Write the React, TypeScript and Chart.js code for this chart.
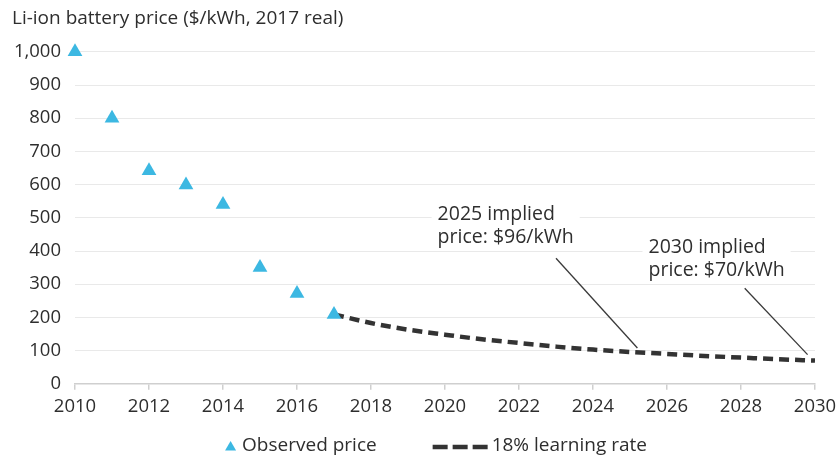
import React, { useEffect, useRef } from "react";
import { Chart, registerables } from "chart.js";

Chart.register(...registerables);

// ---- Data ----
const chartTitle = "Li-ion battery price ($/kWh, 2017 real)";
const observedYears = [2010, 2011, 2012, 2013, 2014, 2015, 2016, 2017];
const observedPrices = [1000, 800, 642, 599, 540, 350, 272, 209];
const projectedYears = [2017, 2018, 2019, 2020, 2021, 2022, 2023, 2024, 2025, 2026, 2027, 2028, 2029, 2030];
const projectedPrices = [209, 183, 163, 148, 134, 123, 112, 103, 96, 90, 84, 79, 74, 70];
const seriesLabels = ["Observed price", "18% learning rate"];
const xTickValues = [2010, 2012, 2014, 2016, 2018, 2020, 2022, 2024, 2026, 2028, 2030];
const yTickValues = [0, 100, 200, 300, 400, 500, 600, 700, 800, 900, 1000];
const annotationLines1 = ["2025 implied", "price: $96/kWh"];
const annotationLines2 = ["2030 implied", "price: $70/kWh"];

const FONT = "'Open Sans', 'Noto Sans', sans-serif";
const TEXT_COLOR = "#2e2e2e";
const CYAN = "#3cb8e2";
const DASH_COLOR = "#333333";

// annotation placement (data units for anchors)
const annotations = [
  { text: annotationLines1, at: { x: 2019.8, y: 510 }, from: { x: 2023.0, y: 378 }, to: { x: 2025.2, y: 108 } },
  { text: annotationLines2, at: { x: 2025.5, y: 411 }, from: { x: 2028.1, y: 288 }, to: { x: 2029.8, y: 88 } },
];

const ANNOT_FONT = `19.5px ${FONT}`;

const annotationPlugin = {
  id: "annot",
  beforeDatasetsDraw(chart: any) {
    const { ctx, scales } = chart;
    ctx.save();
    ctx.font = ANNOT_FONT;
    annotations.forEach((a) => {
      const x = scales.x.getPixelForValue(a.at.x);
      const y = scales.y.getPixelForValue(a.at.y);
      const w = Math.max(...a.text.map((t: string) => ctx.measureText(t).width));
      ctx.fillStyle = "#ffffff";
      ctx.fillRect(x - 6, y - 14, w + 12, 23 * a.text.length + 3);
    });
    ctx.restore();
  },
  afterDatasetsDraw(chart: any) {
    const { ctx, scales } = chart;
    ctx.save();
    ctx.font = ANNOT_FONT;
    ctx.fillStyle = TEXT_COLOR;
    ctx.textBaseline = "middle";
    ctx.textAlign = "left";
    annotations.forEach((a) => {
      const x = scales.x.getPixelForValue(a.at.x);
      const y = scales.y.getPixelForValue(a.at.y);
      a.text.forEach((t: string, i: number) => ctx.fillText(t, x, y + i * 23));
      ctx.beginPath();
      ctx.strokeStyle = "#3a3a3a";
      ctx.lineWidth = 1.3;
      ctx.moveTo(scales.x.getPixelForValue(a.from.x), scales.y.getPixelForValue(a.from.y));
      ctx.lineTo(scales.x.getPixelForValue(a.to.x), scales.y.getPixelForValue(a.to.y));
      ctx.stroke();
    });
    ctx.restore();
  },
};

const legendPlugin = {
  id: "customLegend",
  afterDraw(chart: any) {
    const { ctx, chartArea } = chart;
    const ds = chart.data.datasets;
    ctx.save();
    ctx.font = `19px ${FONT}`;
    ctx.textBaseline = "middle";
    const w1 = ctx.measureText(ds[0].label).width;
    const w2 = ctx.measureText(ds[1].label).width;
    const marker1 = 11, gap1 = 6, itemGap = 56, marker2 = 55, gap2 = 4;
    const total = marker1 + gap1 + w1 + itemGap + marker2 + gap2 + w2;
    const cx = (chartArea.left + chartArea.right) / 2 - 9;
    let x = cx - total / 2;
    const y = 446;
    // triangle
    ctx.fillStyle = ds[0].backgroundColor;
    ctx.beginPath();
    ctx.moveTo(x + marker1 / 2, y - 5);
    ctx.lineTo(x + marker1, y + 4.5);
    ctx.lineTo(x, y + 4.5);
    ctx.closePath();
    ctx.fill();
    x += marker1 + gap1;
    ctx.fillStyle = TEXT_COLOR;
    ctx.fillText(ds[0].label, x, y);
    x += w1 + itemGap;
    // dashed line sample
    ctx.strokeStyle = ds[1].borderColor;
    ctx.lineWidth = 4.5;
    ctx.setLineDash([15, 5]);
    ctx.beginPath();
    ctx.moveTo(x, y + 1);
    ctx.lineTo(x + marker2, y + 1);
    ctx.stroke();
    ctx.setLineDash([]);
    x += marker2 + gap2;
    ctx.fillText(ds[1].label, x, y);
    ctx.restore();
  },
};

export default function App() {
  const ref = useRef<HTMLCanvasElement | null>(null);
  useEffect(() => {
    document.body.style.margin = "0";
    if (!ref.current) return;
    const chart = new Chart(ref.current, {
      type: "line",
      data: {
        datasets: [
          {
            label: seriesLabels[0],
            data: observedYears.map((x, i) => ({ x, y: observedPrices[i] })),
            showLine: false,
            pointStyle: "triangle",
            pointRadius: 8.5,
            backgroundColor: CYAN,
            borderColor: CYAN,
            borderWidth: 0,
            clip: false,
            order: 0,
          },
          {
            label: seriesLabels[1],
            data: projectedYears.map((x, i) => ({ x, y: projectedPrices[i] })),
            borderColor: DASH_COLOR,
            borderWidth: 4.5,
            borderDash: [10, 6],
            pointRadius: 0,
            cubicInterpolationMode: "monotone",
            fill: false,
            order: 1,
          },
        ],
      },
      options: {
        responsive: false,
        animation: false,
        events: [],
        layout: { padding: { left: 12, right: 21, top: 0, bottom: 35 } },
        plugins: {
          legend: { display: false },
          tooltip: { enabled: false },
          title: {
            display: true,
            text: chartTitle,
            align: "start",
            color: TEXT_COLOR,
            font: { family: FONT, size: 19, weight: "normal" },
            padding: { top: 7, bottom: 22 },
          },
        },
        scales: {
          x: {
            type: "linear",
            min: xTickValues[0],
            max: xTickValues[xTickValues.length - 1],
            afterBuildTicks: (s: any) => {
              s.ticks = xTickValues.map((v) => ({ value: v }));
            },
            afterFit: (s: any) => {
              s.paddingLeft = 0;
              s.paddingRight = 0;
            },
            ticks: {
              callback: (v: any) => String(v),
              color: TEXT_COLOR,
              font: { family: FONT, size: 18.5 },
              padding: 6,
              maxRotation: 0,
              autoSkip: false,
            },
            grid: { drawOnChartArea: false, drawTicks: true, tickLength: 6, color: "#cfcfcf", lineWidth: 1.5 },
            border: { color: "#cfcfcf", width: 1.5 },
          },
          y: {
            min: yTickValues[0],
            max: yTickValues[yTickValues.length - 1],
            afterBuildTicks: (s: any) => {
              s.ticks = yTickValues.map((v) => ({ value: v }));
            },
            afterFit: (s: any) => {
              s.width = 63;
              s.paddingTop = 0;
              s.paddingBottom = 0;
            },
            ticks: {
              callback: (v: any) => Number(v).toLocaleString("en-US"),
              color: TEXT_COLOR,
              font: { family: FONT, size: 18.5 },
              padding: 14,
            },
            grid: { color: "#e9e9e9", drawTicks: false, lineWidth: 1 },
            border: { display: false },
          },
        },
      },
      plugins: [annotationPlugin, legendPlugin],
    } as any);
    return () => chart.destroy();
  }, []);
  return (
    <div style={{ position: "absolute", left: 0, top: 0, width: 836, height: 459, background: "#fff" }}>
      <canvas ref={ref} width={836} height={459} style={{ display: "block" }} />
    </div>
  );
}
